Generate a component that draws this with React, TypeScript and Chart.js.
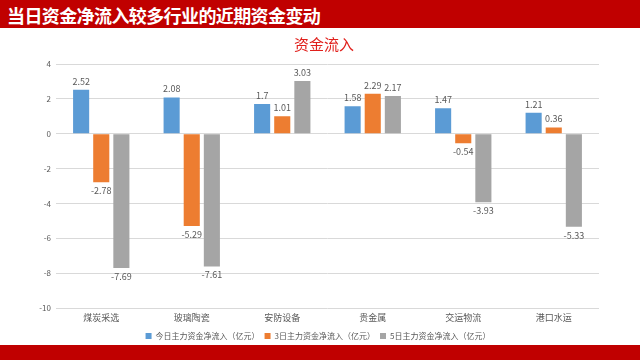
import React, { useEffect, useRef } from "react";
import { Chart, registerables } from "chart.js";

Chart.register(...registerables);

const categories = ["煤炭采选", "玻璃陶瓷", "安防设备", "贵金属", "交运物流", "港口水运"];
const seriesNames = ["今日主力资金净流入（亿元）", "3日主力资金净流入（亿元）", "5日主力资金净流入（亿元）"];
const todayValues = [2.52, 2.08, 1.7, 1.58, 1.47, 1.21];
const threeDayValues = [-2.78, -5.29, 1.01, 2.29, -0.54, 0.36];
const fiveDayValues = [-7.69, -7.61, 3.03, 2.17, -3.93, -5.33];
const seriesColors = ["#5B9BD5", "#ED7D31", "#A5A5A5"];
const headerTitle = "当日资金净流入较多行业的近期资金变动";
const chartTitle = "资金流入";

const FONT = "'Noto Sans CJK SC', 'Microsoft YaHei', sans-serif";

const dataLabelPlugin = {
  id: "dataLabels",
  afterDatasetsDraw(chart: any) {
    const ctx = chart.ctx;
    ctx.save();
    ctx.font = `9px ${FONT}`;
    ctx.fillStyle = "#595959";
    ctx.textAlign = "center";
    chart.data.datasets.forEach((ds: any, i: number) => {
      const meta = chart.getDatasetMeta(i);
      meta.data.forEach((el: any, j: number) => {
        const v = ds.data[j];
        if (v >= 0) {
          ctx.textBaseline = "bottom";
          ctx.fillText(String(v), el.x, el.y - 4);
        } else {
          ctx.textBaseline = "top";
          ctx.fillText(String(v), el.x, el.y + 4);
        }
      });
    });
    ctx.restore();
  },
};

export default function App() {
  const canvasRef = useRef<HTMLCanvasElement>(null);

  useEffect(() => {
    if (!canvasRef.current) return;
    const chart = new Chart(canvasRef.current, {
      type: "bar",
      data: {
        labels: categories,
        datasets: [todayValues, threeDayValues, fiveDayValues].map((d, i) => ({
          label: seriesNames[i],
          data: d,
          backgroundColor: seriesColors[i],
          categoryPercentage: 0.667,
          barPercentage: 0.8,
        })),
      },
      options: {
        animation: false,
        responsive: false,
        maintainAspectRatio: false,
        layout: { padding: { left: 37, right: 41, top: 36, bottom: 0 } },
        scales: {
          x: {
            grid: { display: false, drawTicks: false },
            border: { display: false },
            ticks: { color: "#595959", font: { family: FONT, size: 9 }, padding: 4 },
          },
          y: {
            min: -10,
            max: 4,
            afterFit: (scale: any) => {
              scale.width = 19;
            },
            ticks: { stepSize: 2, color: "#595959", font: { family: FONT, size: 8 }, padding: 5 },
            grid: { color: "#D9D9D9", drawTicks: false },
            border: { display: false },
          },
        },
        plugins: {
          title: { display: false },
          legend: {
            position: "bottom",
            labels: {
              boxWidth: 6,
              boxHeight: 6,
              color: "#595959",
              font: { family: FONT, size: 8 },
              padding: 5,
            },
          },
          tooltip: { enabled: false },
        },
      },
      plugins: [dataLabelPlugin],
    });
    return () => chart.destroy();
  }, []);

  return (
    <div style={{ position: "fixed", left: 0, top: 0, width: 640, height: 360, background: "#fff", overflow: "hidden" }}>
      <canvas ref={canvasRef} width={640} height={322} style={{ position: "absolute", left: 0, top: 28 }} />
      <div
        style={{
          position: "absolute",
          left: 0,
          top: 0,
          width: 640,
          height: 28,
          background: "#C00000",
          color: "#fff",
          fontFamily: FONT,
          fontWeight: 700,
          fontSize: 18,
          letterSpacing: -0.6,
          lineHeight: "30px",
          paddingLeft: 7,
          boxSizing: "border-box",
          whiteSpace: "nowrap",
        }}
      >
        {headerTitle}
      </div>
      <div
        style={{
          position: "absolute",
          left: 224,
          top: 34,
          width: 200,
          textAlign: "center",
          color: "#E0201C",
          fontFamily: FONT,
          fontSize: 15,
          lineHeight: "20px",
        }}
      >
        {chartTitle}
      </div>
      <div style={{ position: "absolute", left: 0, top: 345, width: 640, height: 15, background: "#C00000" }} />
    </div>
  );
}
